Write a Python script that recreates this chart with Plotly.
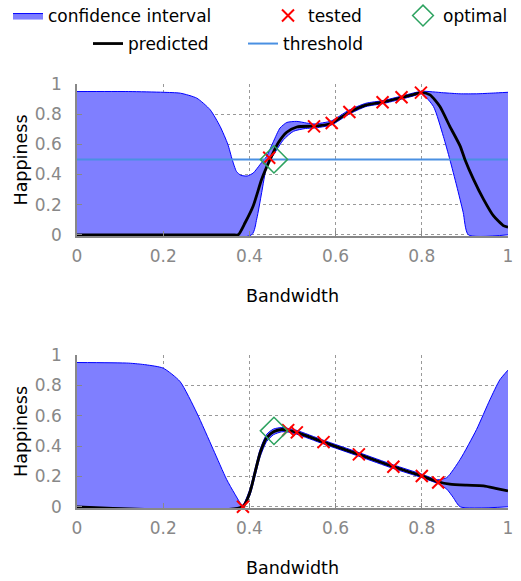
import plotly.graph_objects as go

# ---------------- data: top panel ----------------
top_pred_x = [0, 0.36, 0.374, 0.39, 0.409, 0.4285, 0.448, 0.467, 0.4865, 0.51, 0.541, 0.55, 0.59, 0.63,
              0.67, 0.71, 0.753, 0.78, 0.80, 0.819, 0.842, 0.865, 0.889, 0.90, 0.92, 0.943, 0.966, 0.989, 1.0]
top_pred_y = [0, 0, 0, 0.08, 0.193, 0.368, 0.50, 0.61, 0.68, 0.715, 0.72, 0.72, 0.74, 0.81,
              0.86, 0.88, 0.91, 0.93, 0.943, 0.928, 0.851, 0.719, 0.588, 0.50, 0.368, 0.237, 0.127, 0.061, 0.05]

top_up_x = [0, 0.12, 0.2, 0.24, 0.278, 0.309, 0.332, 0.35, 0.36, 0.37, 0.38, 0.395, 0.409, 0.425, 0.44,
            0.456, 0.471, 0.487, 0.51, 0.533, 0.55, 0.59, 0.63, 0.67, 0.71, 0.753, 0.78, 0.80,
            0.85, 0.889, 0.927, 0.966, 1.0]
top_up_y = [0.95, 0.95, 0.945, 0.939, 0.906, 0.829, 0.719, 0.60, 0.50, 0.42, 0.395, 0.39, 0.41, 0.467, 0.52,
            0.62, 0.708, 0.745, 0.752, 0.741, 0.735, 0.755, 0.825, 0.872, 0.89, 0.92, 0.94, 0.952,
            0.942, 0.935, 0.935, 0.94, 0.945]

top_lo_x = [0, 0.405, 0.417, 0.4285, 0.44, 0.456, 0.479, 0.502, 0.53, 0.55, 0.59, 0.63, 0.67, 0.71,
            0.753, 0.78, 0.80, 0.827, 0.85, 0.865, 0.881, 0.896, 0.908, 1.0]
top_lo_y = [0, 0, 0.105, 0.28, 0.45, 0.53, 0.63, 0.686, 0.705, 0.708, 0.728, 0.798, 0.85, 0.87,
            0.90, 0.92, 0.935, 0.851, 0.653, 0.50, 0.324, 0.149, 0, 0]

top_tested_x = [0.446, 0.55, 0.591, 0.632, 0.709, 0.753, 0.798]
top_tested_y = [0.511, 0.719, 0.741, 0.814, 0.879, 0.912, 0.943]

top_opt_x = [0.457]
top_opt_y = [0.5]

threshold_x = [0, 1]
threshold_y = [0.5, 0.5]

# ---------------- data: bottom panel ----------------
bot_pred_x = [0, 0.384, 0.401, 0.413, 0.425, 0.44, 0.456, 0.475, 0.49, 0.51, 0.572, 0.654, 0.734,
              0.80, 0.838, 0.865, 0.904, 0.943, 0.974, 1.0]
bot_pred_y = [0, 0, 0.094, 0.225, 0.356, 0.454, 0.494, 0.509, 0.504, 0.49, 0.426, 0.345, 0.264,
              0.203, 0.165, 0.149, 0.142, 0.138, 0.12, 0.105]

bot_up_x = [0, 0.12, 0.16, 0.2, 0.239, 0.278, 0.316, 0.347, 0.365, 0.384, 0.401, 0.413, 0.425, 0.44,
            0.456, 0.475, 0.49, 0.51, 0.572, 0.654, 0.734, 0.80, 0.837, 0.858, 0.889, 0.927,
            0.958, 0.981, 1.0]
bot_up_y = [0.95, 0.946, 0.935, 0.913, 0.825, 0.618, 0.378, 0.181, 0.09, 0.01, 0.115, 0.25, 0.38, 0.477,
            0.512, 0.522, 0.516, 0.503, 0.438, 0.357, 0.276, 0.215, 0.178, 0.192, 0.312, 0.509,
            0.705, 0.836, 0.90]

bot_lo_x = [0, 0.384, 0.401, 0.413, 0.425, 0.44, 0.456, 0.475, 0.49, 0.51, 0.572, 0.654, 0.734,
            0.80, 0.838, 0.858, 0.873, 0.889, 1.0]
bot_lo_y = [0, 0, 0.075, 0.2, 0.33, 0.43, 0.475, 0.494, 0.492, 0.478, 0.414, 0.333, 0.252,
            0.192, 0.152, 0.116, 0.061, 0, 0]

bot_tested_x = [0.385, 0.49, 0.51, 0.572, 0.654, 0.734, 0.80, 0.838]
bot_tested_y = [0.0, 0.505, 0.49, 0.426, 0.345, 0.264, 0.203, 0.16]

bot_opt_x = [0.457]
bot_opt_y = [0.5]

x_ticks = [0, 0.2, 0.4, 0.6, 0.8, 1]
y_ticks = [0, 0.2, 0.4, 0.6, 0.8, 1]

# ---------------- styling ----------------
FONT = "DejaVu Sans"
BLUE = "#0000ff"
PATTERN = dict(shape="x", fgcolor=BLUE, bgcolor="white", size=4, solidity=1.0)
SPL = dict(shape="spline", smoothing=0.6)

fig = go.Figure()


def add_panel(xa, ya, pred_x, pred_y, up_x, up_y, lo_x, lo_y, t_x, t_y, o_x, o_y, legend, thr=False):
    fig.add_trace(go.Scatter(x=lo_x, y=lo_y, mode="lines", xaxis=xa, yaxis=ya,
                             line=dict(color=BLUE, width=1, **SPL), showlegend=False, hoverinfo="skip"))
    fig.add_trace(go.Scatter(x=up_x, y=up_y, mode="lines", xaxis=xa, yaxis=ya, fill="tonexty",
                             fillcolor="rgba(0,0,255,0)", fillpattern=PATTERN,
                             line=dict(color=BLUE, width=1, **SPL), name="confidence interval",
                             legend="legend", showlegend=legend))
    if thr:
        fig.add_trace(go.Scatter(x=threshold_x, y=threshold_y, mode="lines", xaxis=xa, yaxis=ya,
                                 line=dict(color="#4a90e2", width=2), name="threshold",
                                 legend="legend5", showlegend=legend))
    fig.add_trace(go.Scatter(x=pred_x, y=pred_y, mode="lines", xaxis=xa, yaxis=ya,
                             line=dict(color="black", width=2.8, **SPL), name="predicted",
                             legend="legend4", showlegend=legend))
    fig.add_trace(go.Scatter(x=t_x, y=t_y, mode="markers", xaxis=xa, yaxis=ya, cliponaxis=False,
                             marker=dict(symbol="x-thin", size=12, line=dict(color="red", width=2)),
                             name="tested", legend="legend2", showlegend=legend))
    fig.add_trace(go.Scatter(x=o_x, y=o_y, mode="markers", xaxis=xa, yaxis=ya, cliponaxis=False,
                             marker=dict(symbol="diamond-open", size=21, color="#2ca25f",
                                         line=dict(color="#2ca25f", width=1.5)),
                             name="optimal", legend="legend3", showlegend=legend))


add_panel("x", "y", top_pred_x, top_pred_y, top_up_x, top_up_y, top_lo_x, top_lo_y,
          top_tested_x, top_tested_y, top_opt_x, top_opt_y, True, thr=True)
add_panel("x2", "y2", bot_pred_x, bot_pred_y, bot_up_x, bot_up_y, bot_lo_x, bot_lo_y,
          bot_tested_x, bot_tested_y, bot_opt_x, bot_opt_y, False)

axis_common = dict(
    showgrid=True, gridcolor="#999999", griddash="dot", gridwidth=1,
    zeroline=False, showline=True, linecolor="#888888", linewidth=1.5,
    ticks="inside", ticklen=5, tickcolor="#888888", automargin=False,
    tickfont=dict(family=FONT, size=17, color="#888888"),
)
xcommon = dict(**axis_common, range=[0, 1], tickvals=x_ticks, domain=[0, 1], ticklabelstandoff=4,
               title=dict(text="Bandwidth", font=dict(size=17.5), standoff=25))
ycommon = dict(**axis_common, range=[-0.008, 1], tickvals=y_ticks, ticklabelstandoff=10,
               title=dict(text="Happiness", font=dict(size=17.5), standoff=3))

W, H, L, R, T, B = 521, 581, 77, 13, 84, 73
PW, PH = W - L - R, H - T - B


def lx(px):
    return (px - L) / PW


def ly(py):
    return (H - B - py) / PH


leg_common = dict(orientation="h", xanchor="left", yanchor="middle", bgcolor="rgba(0,0,0,0)",
                  itemsizing="trace", font=dict(family=FONT, size=17, color="black"))

fig.update_layout(
    width=W, height=H,
    margin=dict(l=L, r=R, t=T, b=B, autoexpand=False),
    paper_bgcolor="white", plot_bgcolor="white",
    font=dict(family=FONT, size=17, color="black"),
    xaxis=dict(**xcommon, anchor="y"),
    yaxis=dict(**ycommon, domain=[0.6415, 1], anchor="x"),
    xaxis2=dict(**xcommon, anchor="y2"),
    yaxis2=dict(**ycommon, domain=[0, 0.361], anchor="x2"),
    legend=dict(**leg_common, x=lx(8), y=ly(16)),
    legend2=dict(**leg_common, x=lx(268), y=ly(16)),
    legend3=dict(**leg_common, x=lx(403), y=ly(16)),
    legend4=dict(**leg_common, x=lx(88), y=ly(44)),
    legend5=dict(**leg_common, x=lx(243), y=ly(44)),
)

fig.write_html("out.html", config={"displayModeBar": False},
               post_script="document.body.style.margin='0';document.body.style.overflow='hidden';")
